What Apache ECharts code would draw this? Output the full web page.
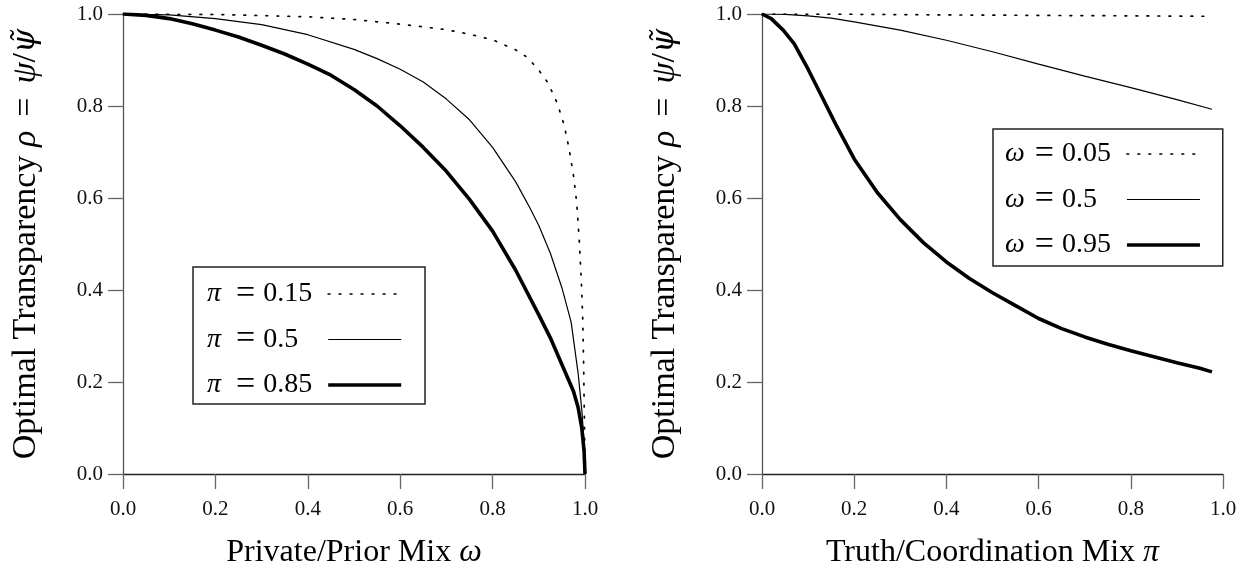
<!DOCTYPE html>
<html><head><meta charset="utf-8">
<script src="https://cdn.jsdelivr.net/npm/echarts@6/dist/echarts.min.js"></script>
<style>html,body{margin:0;padding:0;background:#fff}#c{width:1249px;height:577px}</style>
</head><body><div id="c"></div>
<script>
// ---- Data ----
// Left panel: rho vs omega for three values of pi
const leftPi015 = [[0,1],[0.2,0.999],[0.4,0.994],[0.5,0.988],[0.6,0.978],[0.7,0.966],[0.75,0.956],[0.8,0.944],[0.85,0.922],[0.875,0.906],[0.9,0.878],[0.92,0.85],[0.94,0.806],[0.955,0.758],[0.965,0.71],[0.975,0.65],[0.982,0.59],[0.988,0.5],[0.992,0.42],[0.995,0.34],[0.997,0.24],[0.9985,0.13],[1,0]];
const leftPi05 = [[0,1],[0.1,0.998],[0.2,0.99],[0.3,0.977],[0.4,0.955],[0.5,0.923],[0.55,0.903],[0.6,0.88],[0.65,0.852],[0.7,0.815],[0.75,0.77],[0.8,0.71],[0.85,0.635],[0.88,0.58],[0.9,0.54],[0.925,0.48],[0.95,0.405],[0.97,0.33],[0.985,0.22],[0.993,0.14],[0.998,0.07],[1,0]];
const leftPi085 = [[0,1],[0.05,0.997],[0.1,0.99],[0.15,0.979],[0.2,0.965],[0.25,0.95],[0.3,0.932],[0.35,0.913],[0.4,0.891],[0.45,0.867],[0.5,0.836],[0.55,0.8],[0.6,0.757],[0.65,0.71],[0.7,0.658],[0.75,0.597],[0.8,0.528],[0.85,0.443],[0.9,0.346],[0.925,0.296],[0.95,0.238],[0.975,0.18],[0.985,0.145],[0.993,0.1],[0.998,0.05],[1,0]];
// Right panel: rho vs pi for three values of omega
const rightOm005 = [[0,1],[0.2,0.9995],[0.4,0.998],[0.6,0.997],[0.8,0.996],[0.976,0.995]];
const rightOm05 = [[0,1],[0.05,0.999],[0.1,0.996],[0.15,0.991],[0.2,0.983],[0.3,0.965],[0.4,0.943],[0.5,0.918],[0.6,0.891],[0.7,0.865],[0.8,0.84],[0.9,0.814],[0.976,0.793]];
const rightOm095 = [[0,1],[0.02,0.99],[0.046,0.965],[0.07,0.935],[0.1,0.88],[0.13,0.82],[0.16,0.76],[0.2,0.685],[0.25,0.612],[0.3,0.553],[0.35,0.503],[0.4,0.461],[0.45,0.425],[0.5,0.394],[0.55,0.366],[0.6,0.338],[0.65,0.316],[0.7,0.298],[0.75,0.282],[0.8,0.268],[0.85,0.255],[0.9,0.242],[0.95,0.23],[0.976,0.222]];
const leftNames = ['π = 0.15','π = 0.5','π = 0.85'];
const rightNames = ['ω = 0.05','ω = 0.5','ω = 0.95'];
const xTicks = [0, 0.2, 0.4, 0.6, 0.8, 1.0];

const SERIF = "'Liberation Serif','DejaVu Serif',serif";
const chart = echarts.init(document.getElementById('c'));

const dotted = {color:'#000', width:1.7, type:[1.7, 9.3], cap:'round'};
const thin = {color:'#000', width:1.2, type:'solid'};
const thick = {color:'#000', width:3.6, type:'solid'};

function mkSeries(name, data, idx, ls){
  return {type:'line', name, data, xAxisIndex:idx, yAxisIndex:idx, showSymbol:false, symbol:'none',
    smooth:false, lineStyle:ls, silent:true, animation:false};
}
function legendFmt(name){
  const p = name.split(' ');
  const tail = p[2].length >= 4 ? '{s1| }' : '{s2| }';
  const gap = p[0] === 'ω' ? '{g3| }' : '{g1| }';
  return '{i|' + p[0] + '}' + gap + '{e|=}{g2| }{n|' + p[2] + '}' + tail;
}
const legendRich = {
  i:{fontFamily:SERIF, fontStyle:'italic', fontSize:28, color:'#000'},
  g1:{fontSize:10, width:15},
  g3:{fontSize:10, width:10},
  e:{fontFamily:SERIF, fontSize:34, color:'#000'},
  g2:{fontSize:10, width:8},
  n:{fontFamily:SERIF, fontSize:28, color:'#000'},
  s1:{fontSize:10, width:11},
  s2:{fontSize:10, width:25}
};
function mkLegend(names, left, top, padding){
  return {data:names, orient:'vertical', align:'right', left, top,
    itemWidth:73, itemHeight:14, itemGap:11.5, padding,
    borderColor:'#222', borderWidth:1.5, borderRadius:0, backgroundColor:'#fff',
    selectedMode:false, formatter:legendFmt,
    itemStyle:{opacity:0}, lineStyle:{width:'inherit', opacity:1},
    textStyle:{color:'#000', fontFamily:SERIF, fontSize:26, rich:legendRich}};
}
const xRich = {
  i:{fontFamily:SERIF, fontStyle:'italic', fontSize:32, color:'#000'}
};
const yRich = {
  i:{fontFamily:SERIF, fontStyle:'italic', fontSize:34, color:'#000'},
  t:{fontFamily:"'DejaVu Serif',serif", fontStyle:'italic', fontSize:31, color:'#000'},
  g:{fontSize:10, width:14}
};
function mkX(idx, name){
  return {gridIndex:idx, type:'value', min:0, max:1, interval:0.2,
    name, nameLocation:'middle', nameGap:63,
    nameTextStyle:{fontFamily:SERIF, fontSize:32, color:'#000', rich:xRich},
    axisLine:{show:true, lineStyle:{color:'#222', width:1.3}},
    axisTick:{show:true, length:15, lineStyle:{color:'#666', width:1.3}},
    axisLabel:{margin:25, fontFamily:SERIF, fontSize:21, color:'#111', formatter:v=>v.toFixed(1)},
    splitLine:{show:false}};
}
function mkY(idx){
  return {gridIndex:idx, type:'value', min:0, max:1, interval:0.2,
    name:'Optimal Transparency {i|ρ}{g| }={g| }{i|ψ}/{t|ψ̃}', nameLocation:'middle', nameGap:80,
    nameTextStyle:{fontFamily:SERIF, fontSize:34, color:'#000', rich:yRich},
    axisLine:{show:true, lineStyle:{color:'#555', width:1.3}},
    axisTick:{show:true, length:15, lineStyle:{color:'#666', width:1.3}},
    axisLabel:{margin:20, fontFamily:SERIF, fontSize:21, color:'#111', formatter:v=>v.toFixed(1)},
    splitLine:{show:false}};
}

chart.setOption({
  backgroundColor:'#fff',
  animation:false,
  grid:[
    {left:123, right:664, top:14, bottom:103},
    {left:762, right:26, top:14, bottom:103}
  ],
  xAxis:[mkX(0,'Private/Prior Mix {i|ω}'), mkX(1,'Truth/Coordination Mix {i|π}')],
  yAxis:[mkY(0), mkY(1)],
  legend:[
    mkLegend(leftNames, 193, 267, [10,22,2,14]),
    mkLegend(rightNames, 993, 129, [8,21,4,12])
  ],
  series:[
    mkSeries(leftNames[0], leftPi015, 0, dotted),
    mkSeries(leftNames[1], leftPi05, 0, thin),
    mkSeries(leftNames[2], leftPi085, 0, thick),
    mkSeries(rightNames[0], rightOm005, 1, dotted),
    mkSeries(rightNames[1], rightOm05, 1, thin),
    mkSeries(rightNames[2], rightOm095, 1, thick)
  ]
});
</script></body></html>
